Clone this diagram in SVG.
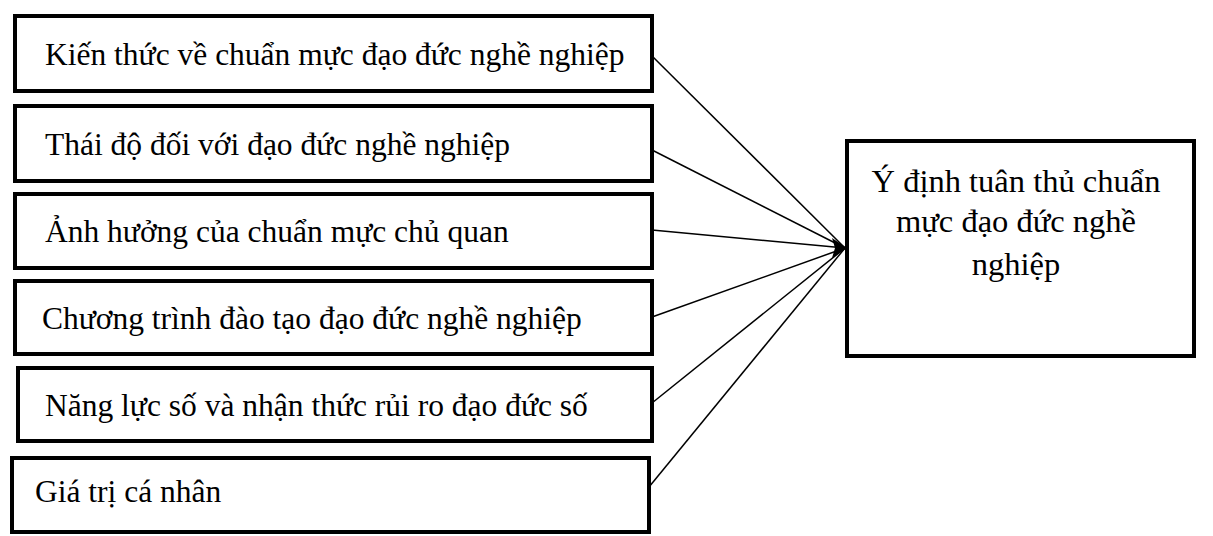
<svg xmlns="http://www.w3.org/2000/svg" width="1213" height="536" viewBox="0 0 1213 536">
<style>
.b{fill:#fff;stroke:#000;stroke-width:4}
.t{font-family:"Liberation Serif",serif;font-size:31.5px;fill:#000}
.r{font-size:32.5px}
.c line{stroke:#000;stroke-width:1.5}
</style>
<rect width="1213" height="536" fill="#fff"/>
<g class="c">
<line x1="652" y1="56" x2="845" y2="248"/>
<line x1="652" y1="150" x2="845" y2="248"/>
<line x1="652" y1="230" x2="845" y2="248"/>
<line x1="652" y1="317" x2="845" y2="248"/>
<line x1="652" y1="403" x2="845" y2="248"/>
<line x1="649" y1="487" x2="845" y2="248"/>
<path d="M847,248 L832,238 L835,248 L832,258 Z" fill="#000"/>
</g>
<g id="n1"><rect class="b" x="15" y="16" width="637" height="75"/><text class="t" x="45" y="65">Kiến thức về chuẩn mực đạo đức nghề nghiệp</text></g>
<g id="n2"><rect class="b" x="15" y="106" width="637" height="75"/><text class="t" x="45" y="155">Thái độ đối với đạo đức nghề nghiệp</text></g>
<g id="n3"><rect class="b" x="15" y="194" width="637" height="74"/><text class="t" x="45" y="242">Ảnh hưởng của chuẩn mực chủ quan</text></g>
<g id="n4"><rect class="b" x="15" y="281" width="637" height="73"/><text class="t" x="42" y="329">Chương trình đào tạo đạo đức nghề nghiệp</text></g>
<g id="n5"><rect class="b" x="18" y="368" width="634" height="73"/><text class="t" x="45" y="416">Năng lực số và nhận thức rủi ro đạo đức số</text></g>
<g id="n6"><rect class="b" x="12" y="458" width="637" height="74"/><text class="t" x="35" y="502">Giá trị cá nhân</text></g>
<g id="n7"><rect class="b" x="847" y="141" width="347" height="215"/>
<text class="t r" x="1016" y="192" text-anchor="middle">Ý định tuân thủ chuẩn</text>
<text class="t r" x="1016" y="232" text-anchor="middle">mực đạo đức nghề</text>
<text class="t r" x="1016" y="275" text-anchor="middle">nghiệp</text></g>
</svg>
